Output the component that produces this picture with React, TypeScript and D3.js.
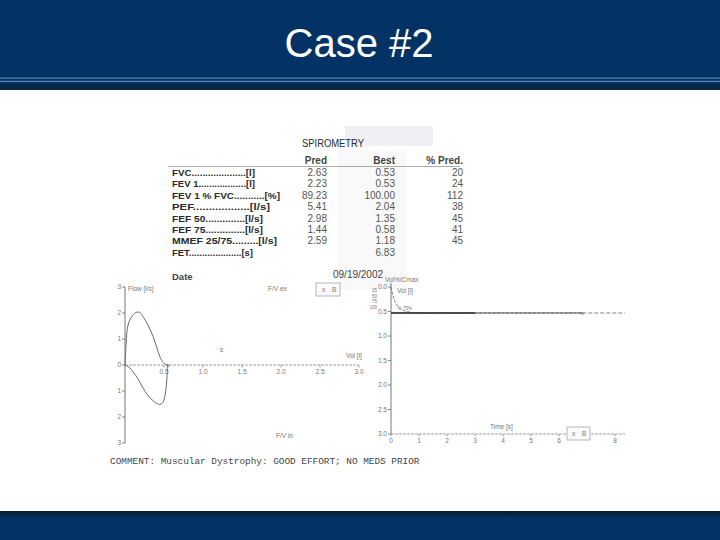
import React from "react";
import * as d3 from "d3";

// ---------- data ----------
const titleText = "Case #2";
const tableLabels = [
  "FVC....................[l]",
  "FEV 1..................[l]",
  "FEV 1 % FVC...........[%]",
  "PEF..................[l/s]",
  "FEF 50..............[l/s]",
  "FEF 75..............[l/s]",
  "MMEF 25/75.........[l/s]",
  "FET....................[s]",
];
const labelWidths = [83, 83, 108, 98, 91, 91, 105, 81];
const predValues = ["2.63", "2.23", "89.23", "5.41", "2.98", "1.44", "2.59", ""];
const bestValues = ["0.53", "0.53", "100.00", "2.04", "1.35", "0.58", "1.18", "6.83"];
const pctPredValues = ["20", "24", "112", "38", "45", "41", "45", ""];
const dateValue = "09/19/2002";
const commentText = "COMMENT: Muscular Dystrophy:  GOOD EFFORT; NO MEDS PRIOR";

// flow-volume loop (expiration, flow > 0)
const expVol = [0, 0.01, 0.03, 0.06, 0.1, 0.15, 0.19, 0.24, 0.3, 0.36, 0.41, 0.45, 0.49, 0.52, 0.55];
const expFlow = [0, 0.6, 1.4, 1.72, 1.92, 2.03, 2.02, 1.82, 1.5, 1.1, 0.65, 0.3, 0.1, 0.03, 0];
// inspiration (flow < 0)
const inspVol = [0, 0.05, 0.1, 0.17, 0.23, 0.29, 0.35, 0.41, 0.45, 0.49, 0.51, 0.53, 0.54, 0.55];
const inspFlow = [0, -0.08, -0.25, -0.55, -0.88, -1.15, -1.35, -1.48, -1.52, -1.42, -1.2, -0.8, -0.35, 0];
const fvTicksX = [0.5, 1.0, 1.5, 2.0, 2.5, 3.0];
const fvTicksY = [3, 2, 1, 0, -1, -2, -3];

// volume-time curve
const vtTime = [0, 0.03, 0.07, 0.12, 0.2, 0.3, 0.45, 0.65, 0.9, 1.3, 2, 3, 4, 5, 6.83];
const vtVol = [0, 0.08, 0.18, 0.27, 0.36, 0.43, 0.48, 0.51, 0.525, 0.53, 0.53, 0.53, 0.53, 0.53, 0.53];
const vtTicksX = [0, 1, 2, 3, 4, 5, 6, 8];
const vtTicksY = [0.0, 0.5, 1.0, 1.5, 2.0, 2.5, 3.0];
const vtPctTicks = ["25", "50", "75", "100"];

const NAVY = "#023364";
const INK = "#2a2a2a";
const GRAY = "#777";
const SANS = "Liberation Sans, Arial, sans-serif";

export default function App() {
  // flow-volume scales
  const fx = d3.scaleLinear().domain([0, 3]).range([125, 359]);
  const fy = d3.scaleLinear().domain([-3, 3]).range([443, 287]);
  const fvLine = d3
    .line<[number, number]>()
    .x((d) => fx(d[0]))
    .y((d) => fy(d[1]))
    .curve(d3.curveCatmullRom.alpha(0.5));
  const expPath = fvLine(expVol.map((v, i) => [v, expFlow[i]]) as [number, number][]) || "";
  const inspPath = fvLine(inspVol.map((v, i) => [v, inspFlow[i]]) as [number, number][]) || "";

  // volume-time scales
  const tx = d3.scaleLinear().domain([0, 8]).range([391, 615]);
  const ty = d3.scaleLinear().domain([0, 3]).range([287, 434]);
  const vtLine = d3
    .line<[number, number]>()
    .x((d) => tx(d[0]))
    .y((d) => ty(d[1]))
    .curve(d3.curveMonotoneX);
  const vtPath = vtLine(vtTime.map((t, i) => [t, vtVol[i]]) as [number, number][]) || "";
  const fvc = vtVol[vtVol.length - 1];
  const fet = vtTime[vtTime.length - 1];

  const rowY = (i: number) => 176 + i * 11.4;

  return (
    <svg
      width={720}
      height={540}
      style={{ position: "absolute", left: 0, top: 0 }}
      fontFamily={SANS}
    >
      <defs>
        <linearGradient id="foot" x1="0" y1="0" x2="0" y2="1">
          <stop offset="0" stopColor="#081a2c" />
          <stop offset="1" stopColor={NAVY} />
        </linearGradient>
      </defs>
      <rect x={0} y={0} width={720} height={540} fill="#ffffff" />

      {/* header */}
      <rect x={0} y={0} width={720} height={84} fill={NAVY} />
      <rect x={0} y={77.5} width={720} height={1.2} fill="#5a86b6" />
      <rect x={0} y={80.8} width={720} height={1.2} fill="#5a86b6" />
      <rect x={0} y={84} width={720} height={6} fill="#08274a" />
      <text x={359} y={57} textAnchor="middle" fill="#ffffff" fontSize={40}>
        {titleText}
      </text>

      {/* footer */}
      <rect x={0} y={511} width={720} height={7} fill="url(#foot)" />
      <rect x={0} y={518} width={720} height={22} fill={NAVY} />

      {/* faint scan shading */}
      <rect x={345} y={126} width={88} height={20} fill="#eef0f3" />
      <rect x={338} y={150} width={68} height={140} fill="#f9f9f9" />

      {/* spirometry table */}
      <text x={302} y={147} fontSize={10} fill={INK} textLength={62} lengthAdjust="spacingAndGlyphs">
        SPIROMETRY
      </text>
      <text x={327} y={164} fontSize={10} fontWeight="bold" fill="#444" textAnchor="end">Pred</text>
      <text x={395} y={164} fontSize={10} fontWeight="bold" fill="#444" textAnchor="end">Best</text>
      <text x={463} y={164} fontSize={10} fontWeight="bold" fill="#444" textAnchor="end">% Pred.</text>
      <line x1={168} x2={460} y1={166.5} y2={166.5} stroke="#999" strokeWidth={0.8} />
      {tableLabels.map((lab, i) => (
        <text
          key={lab}
          x={172}
          y={rowY(i)}
          fontSize={9.5}
          fontWeight="bold"
          fill={INK}
          textLength={labelWidths[i]}
          lengthAdjust="spacingAndGlyphs"
        >
          {lab}
        </text>
      ))}
      {predValues.map((v, i) => (
        <text key={"p" + i} x={327} y={rowY(i)} fontSize={10} fill="#555" textAnchor="end">{v}</text>
      ))}
      {bestValues.map((v, i) => (
        <text key={"b" + i} x={395} y={rowY(i)} fontSize={10} fill="#555" textAnchor="end">{v}</text>
      ))}
      {pctPredValues.map((v, i) => (
        <text key={"c" + i} x={463} y={rowY(i)} fontSize={10} fill="#555" textAnchor="end">{v}</text>
      ))}
      <text x={172} y={280} fontSize={9.5} fontWeight="bold" fill="#444">Date</text>
      <text x={333} y={278} fontSize={10} fill="#444">{dateValue}</text>

      {/* flow-volume chart */}
      <g fill={GRAY} stroke="none" fontSize={6.5}>
        <line x1={fx(0)} x2={fx(0)} y1={fy(3)} y2={fy(-3)} stroke="#666" strokeWidth={0.9} />
        <line x1={fx(0)} x2={fx(3)} y1={fy(0)} y2={fy(0)} stroke="#888" strokeWidth={0.8} strokeDasharray="3 1" />
        {fvTicksY.map((t) => (
          <g key={"fy" + t}>
            <line x1={fx(0) - 3} x2={fx(0)} y1={fy(t)} y2={fy(t)} stroke="#666" strokeWidth={0.8} />
            <text x={fx(0) - 4} y={fy(t) + 2.3} textAnchor="end">{String(Math.abs(t))}</text>
          </g>
        ))}
        {fvTicksX.map((t) => (
          <g key={"fx" + t}>
            <line x1={fx(t)} x2={fx(t)} y1={fy(0)} y2={fy(0) + 2.5} stroke="#777" strokeWidth={0.7} />
            <text x={fx(t)} y={fy(0) + 9} textAnchor="middle">{t.toFixed(1)}</text>
          </g>
        ))}
        <text x={128} y={291}>Flow [l/s]</text>
        <text x={268} y={291}>F/V ex</text>
        <rect x={316} y={283} width={24} height={13} fill="#fafafa" stroke="#999" strokeWidth={0.7} />
        <text x={322} y={292}>x</text>
        <text x={332} y={292}>B</text>
        <text x={276} y={438}>F/V in</text>
        <text x={346} y={358}>Vol [l]</text>
        <text x={220} y={352}>s</text>
      </g>
      <path d={expPath} fill="none" stroke="#6a6a6a" strokeWidth={1} />
      <path d={inspPath} fill="none" stroke="#6a6a6a" strokeWidth={1} />
      <text x={fx(0.55)} y={fy(0) + 2} textAnchor="middle" fontSize={6} fill="#666">x</text>

      {/* volume-time chart */}
      <g fill={GRAY} stroke="none" fontSize={6.5}>
        <line x1={tx(0)} x2={tx(0)} y1={283} y2={ty(3)} stroke="#666" strokeWidth={0.9} />
        <line x1={tx(0)} x2={625} y1={ty(3)} y2={ty(3)} stroke="#888" strokeWidth={0.8} strokeDasharray="3 1" />
        {vtTicksY.map((t) => (
          <g key={"ty" + t}>
            <line x1={tx(0) - 3} x2={tx(0)} y1={ty(t)} y2={ty(t)} stroke="#666" strokeWidth={0.8} />
            <text x={tx(0) - 4} y={ty(t) + 2.3} textAnchor="end">{t.toFixed(1)}</text>
          </g>
        ))}
        {vtPctTicks.map((p, i) => (
          <text key={"pc" + p} x={377} y={292 + i * 5.5} textAnchor="end" fontSize={4.5}>{p}</text>
        ))}
        {vtTicksX.map((t) => (
          <g key={"tx" + t}>
            <line x1={tx(t)} x2={tx(t)} y1={ty(3)} y2={ty(3) + 2.5} stroke="#777" strokeWidth={0.7} />
            <text x={tx(t)} y={ty(3) + 9} textAnchor="middle">{String(t)}</text>
          </g>
        ))}
        <text x={385} y={282}>Vol%/Cmax</text>
        <text x={397} y={293}>Vol [l]</text>
        <text x={490} y={429}>Time [s]</text>
        <rect x={567} y={427} width={23} height={13} fill="#fafafa" stroke="#999" strokeWidth={0.7} />
        <text x={572} y={436}>x</text>
        <text x={582} y={436}>B</text>
        <text x={398} y={310} fontSize={4.5}>¼ 75%</text>
      </g>
      <path d={vtPath} fill="none" stroke="#6d6d6d" strokeWidth={0.9} strokeDasharray="3 1.5" />
      <line x1={tx(0)} x2={tx(fet)} y1={ty(fvc)} y2={ty(fvc)} stroke="#555" strokeWidth={1} />
      <line x1={tx(0)} x2={tx(3)} y1={ty(fvc)} y2={ty(fvc)} stroke="#333" strokeWidth={1.4} />
      <line x1={tx(fet)} x2={625} y1={ty(fvc)} y2={ty(fvc)} stroke="#777" strokeWidth={0.9} strokeDasharray="4 2" />
      <text x={tx(fet)} y={ty(fvc) + 2} textAnchor="middle" fontSize={6} fill="#555">x</text>

      {/* comment */}
      <text x={110} y={464} fontFamily="Liberation Mono, Courier New, monospace" fontSize={9.4} fill="#444">
        {commentText}
      </text>
    </svg>
  );
}
